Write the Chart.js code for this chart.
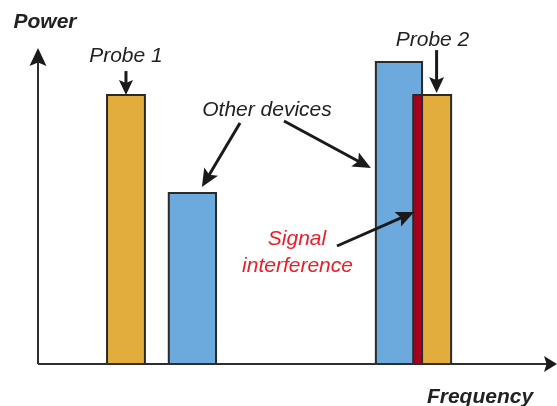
<!DOCTYPE html>
<html>
<head>
<meta charset="utf-8">
<script src="https://cdn.jsdelivr.net/npm/chart.js@4/dist/chart.umd.min.js"></script>
<style>
    html, body { margin: 0; padding: 0; background: #fff; }
    #wrap { width: 557px; height: 406px; position: relative; }
</style>
</head>
<body>
<div id="wrap"><canvas id="grafico"></canvas></div>
<script>
// bars: frequency span (arbitrary units 0-100) and power (0-100)
const nomes = ["Probe 1", "Other device A", "Other device B", "Signal interference", "Probe 2"];
const tipos = ["probe", "other", "other", "interference", "probe"];
const freqInicio = [13.3, 25.2, 65.1, 72.3, 74.0];
const freqFim = [20.6, 34.3, 74.0, 74.0, 79.6];
const potencia = [84.3, 53.6, 94.7, 84.3, 84.3];

const cores = {
    probe: "#E3AD3E",
    other: "#6CA9DD",
    interference: "#A8001F",
};

const datasets = nomes.map((nome, i) => ({
    label: nome,
    data: [
        { x: freqInicio[i], y: 0 },
        { x: freqInicio[i], y: potencia[i] },
        { x: freqFim[i], y: potencia[i] },
        { x: freqFim[i], y: 0 },
    ],
    borderColor: "#2a2a2a",
    borderWidth: 2,
    backgroundColor: cores[tipos[i]],
    fill: "origin",
    pointRadius: 0,
    tension: 0,
    borderJoinStyle: "miter",
    order: nomes.length - i, // later bars drawn on top
}));

function seta(ctx, x1, y1, x2, y2, len, half) {
    const a = Math.atan2(y2 - y1, x2 - x1);
    ctx.beginPath();
    ctx.moveTo(x1, y1);
    ctx.lineTo(x2 - Math.cos(a) * len * 0.7, y2 - Math.sin(a) * len * 0.7);
    ctx.stroke();
    ctx.save();
    ctx.translate(x2, y2);
    ctx.rotate(a);
    ctx.beginPath();
    ctx.moveTo(0, 0);
    ctx.lineTo(-len, -half);
    ctx.lineTo(-len * 0.8, 0);
    ctx.lineTo(-len, half);
    ctx.closePath();
    ctx.fill();
    ctx.restore();
}

const anotacoes = {
    id: "anotacoes",
    afterDatasetsDraw(chart) {
        const ctx = chart.ctx;
        const area = chart.chartArea;
        const sx = chart.scales.x;
        const sy = chart.scales.y;
        ctx.save();

        // axes
        ctx.strokeStyle = "#2e2e2e";
        ctx.fillStyle = "#1a1a1a";
        ctx.lineWidth = 2;
        ctx.beginPath();
        ctx.moveTo(area.left, area.bottom);
        ctx.lineTo(area.right - 8, area.bottom);
        ctx.stroke();
        seta(ctx, area.right - 20, area.bottom, area.right, area.bottom, 13, 8);
        ctx.beginPath();
        ctx.moveTo(area.left, area.bottom);
        ctx.lineTo(area.left, area.top + 12);
        ctx.stroke();
        seta(ctx, area.left, area.top + 30, area.left, area.top + 3, 18, 8.5);

        // annotation arrows
        ctx.strokeStyle = "#1a1a1a";
        ctx.lineWidth = 3;
        const centro = (i) => (sx.getPixelForValue(freqInicio[i]) + sx.getPixelForValue(freqFim[i])) / 2;
        const topo = (i) => sy.getPixelForValue(potencia[i]);

        seta(ctx, centro(0), topo(0) - 24, centro(0), topo(0), 15, 7);
        seta(ctx, centro(4), topo(4) - 45, centro(4), topo(4) - 2, 16, 7.5);
        seta(ctx, 240, 123, centro(1) + 9.5, topo(1) - 6, 18, 8);
        seta(ctx, 284, 121, sx.getPixelForValue(freqInicio[2]) - 5, 168, 18, 8);
        seta(ctx, 337, 246, sx.getPixelForValue(freqInicio[3]) + 1, 212, 18, 8);

        // texts
        ctx.textAlign = "center";
        ctx.textBaseline = "alphabetic";
        ctx.fillStyle = "#222";
        ctx.font = "bold italic 21px 'Liberation Sans', Arial, sans-serif";
        ctx.fillText("Power", 45, 28);
        ctx.fillText("Frequency", 480, 403);
        ctx.font = "italic 21px 'Liberation Sans', Arial, sans-serif";
        ctx.fillText("Probe 1", centro(0), topo(0) - 33);
        ctx.fillText("Probe 2", 432.5, 46);
        ctx.fillText("Other devices", 267, 116);
        ctx.fillStyle = "#E8202A";
        ctx.fillText("Signal", 297, 245);
        ctx.fillText("interference", 297.5, 272);
        ctx.restore();
    },
};

const ctxGrafico = document.getElementById("grafico").getContext("2d");
new Chart(ctxGrafico, {
    type: "line",
    data: { datasets: datasets },
    options: {
        responsive: true,
        maintainAspectRatio: false,
        animation: false,
        events: [],
        layout: {
            padding: { left: 38, right: 0, top: 45, bottom: 42 },
        },
        plugins: {
            legend: { display: false },
            tooltip: { enabled: false },
        },
        scales: {
            x: { type: "linear", min: 0, max: 100, display: false },
            y: { type: "linear", min: 0, max: 100, display: false },
        },
    },
    plugins: [anotacoes],
});
</script>
</body>
</html>
